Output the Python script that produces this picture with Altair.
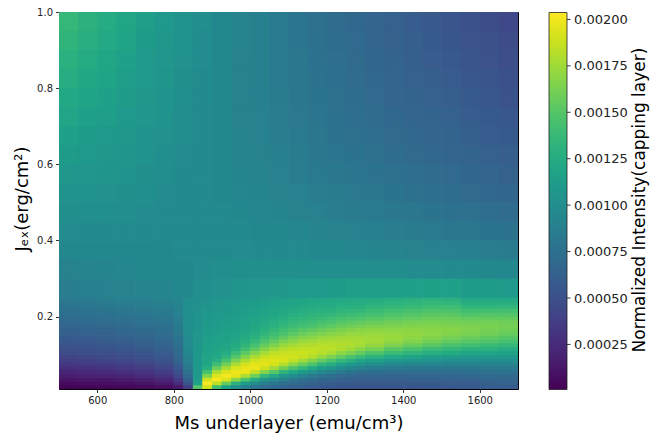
import altair as alt
import pandas as pd

# ---------------- data ----------------
# lower band (Jex 0.01 - 0.25): finer Ms steps around the ridge tip
ms_edges_low = [500, 550, 600, 650, 700, 750, 800, 825, 850,
                875, 900, 925, 950, 975, 1000, 1025, 1050, 1075, 1100, 1125, 1150,
                1175, 1200, 1225, 1250, 1275, 1300,
                1350, 1400, 1450, 1500, 1550, 1600, 1650, 1700]
j_edges_low = [0.01, 0.02, 0.03, 0.04, 0.05, 0.06, 0.07, 0.08, 0.09, 0.10, 0.11, 0.12, 0.13,
               0.14, 0.15, 0.16, 0.17, 0.18, 0.19, 0.20, 0.21, 0.22, 0.23, 0.24, 0.25]
# upper band (Jex 0.25 - 1.0)
ms_edges_high = [500, 550, 600, 650, 700, 750, 800, 850, 900, 950, 1000, 1050, 1100,
                 1150, 1200, 1250, 1300, 1350, 1400, 1450, 1500, 1550, 1600, 1650, 1700]
j_edges_high = [0.25, 0.30, 0.35, 0.40, 0.45, 0.50, 0.55, 0.60, 0.65, 0.70, 0.75, 0.80, 0.85, 0.90, 0.95, 1.00]

# Normalized intensity (x 1e-5), one list per Ms column, bottom row to top row
low_525 = [2, 6, 11, 17, 22, 28, 33, 38, 42, 46, 50, 53, 56, 58, 61, 64, 66, 69, 71, 74, 76, 78, 80, 83]
low_575 = [3, 7, 12, 18, 24, 29, 35, 39, 44, 48, 51, 54, 57, 60, 63, 65, 68, 70, 73, 75, 78, 80, 82, 84]
low_625 = [3, 8, 13, 20, 26, 31, 37, 41, 46, 49, 53, 56, 59, 62, 64, 67, 69, 72, 74, 77, 79, 81, 84, 86]
low_675 = [4, 9, 15, 22, 28, 34, 39, 44, 48, 52, 55, 58, 61, 64, 66, 69, 71, 74, 76, 78, 81, 83, 85, 88]
low_725 = [5, 11, 18, 25, 31, 37, 42, 47, 51, 55, 58, 61, 64, 66, 69, 71, 74, 76, 78, 80, 83, 85, 87, 89]
low_775 = [7, 15, 23, 31, 37, 43, 48, 52, 56, 59, 62, 65, 68, 70, 72, 74, 76, 78, 80, 82, 84, 86, 88, 90]
low_812 = [14, 26, 36, 44, 51, 56, 61, 65, 68, 71, 73, 75, 77, 79, 81, 83, 84, 86, 87, 89, 90, 91, 92, 93]
low_837 = [38, 54, 64, 71, 77, 82, 86, 89, 92, 94, 96, 97, 98, 99, 100, 100, 101, 101, 101, 101, 101, 101, 101, 100]
low_862 = [150, 118, 112, 110, 110, 110, 110, 110, 109, 109, 108, 108, 107, 107, 106, 106, 105, 105, 104, 104, 103, 103, 102, 102]
low_887 = [189, 203, 189, 165, 144, 129, 122, 120, 119, 118, 117, 116, 115, 114, 113, 112, 111, 110, 109, 108, 107, 106, 105, 104]
low_912 = [142, 184, 202, 194, 178, 158, 141, 129, 123, 121, 119, 118, 117, 116, 115, 114, 113, 112, 111, 110, 109, 108, 107, 106]
low_937 = [118, 157, 192, 201, 193, 178, 161, 145, 133, 126, 122, 120, 118, 117, 116, 115, 114, 113, 112, 111, 110, 109, 108, 107]
low_962 = [100, 131, 169, 196, 199, 192, 179, 164, 150, 139, 130, 125, 122, 120, 118, 117, 116, 115, 114, 113, 112, 111, 110, 109]
low_987 = [88, 113, 146, 179, 198, 197, 191, 179, 166, 153, 142, 134, 129, 125, 122, 120, 118, 117, 116, 115, 114, 113, 112, 110]
low_1012 = [80, 99, 127, 159, 186, 198, 196, 189, 178, 166, 154, 144, 137, 131, 127, 124, 122, 120, 119, 117, 116, 114, 113, 111]
low_1037 = [72, 86, 108, 136, 167, 189, 196, 193, 186, 177, 166, 156, 147, 140, 134, 130, 127, 124, 122, 120, 118, 116, 114, 112]
low_1062 = [69, 80, 99, 123, 151, 175, 191, 194, 190, 184, 175, 165, 156, 147, 141, 136, 131, 128, 125, 122, 120, 118, 116, 114]
low_1087 = [65, 74, 89, 109, 134, 160, 181, 192, 191, 187, 181, 173, 164, 155, 147, 141, 136, 132, 128, 125, 122, 120, 118, 116]
low_1112 = [63, 70, 83, 100, 123, 147, 169, 185, 190, 188, 184, 177, 169, 161, 153, 146, 140, 136, 132, 128, 125, 122, 120, 118]
low_1137 = [61, 67, 77, 93, 112, 135, 158, 176, 187, 188, 185, 180, 174, 166, 158, 151, 144, 139, 134, 130, 127, 124, 121, 119]
low_1162 = [59, 64, 72, 85, 103, 124, 147, 166, 181, 186, 185, 181, 176, 169, 162, 154, 147, 141, 136, 133, 129, 126, 123, 120]
low_1187 = [57, 61, 68, 79, 94, 112, 133, 155, 172, 182, 184, 182, 178, 172, 165, 158, 151, 145, 139, 134, 130, 127, 124, 121]
low_1212 = [56, 60, 66, 75, 88, 106, 126, 146, 164, 178, 183, 182, 179, 174, 168, 161, 154, 147, 141, 136, 131, 127, 124, 122]
low_1237 = [55, 58, 63, 71, 83, 98, 117, 137, 155, 170, 180, 181, 179, 175, 170, 164, 157, 151, 144, 139, 133, 130, 126, 123]
low_1262 = [54, 57, 62, 69, 79, 93, 110, 129, 147, 164, 175, 180, 179, 176, 172, 166, 160, 153, 147, 140, 135, 130, 127, 124]
low_1287 = [54, 57, 61, 67, 76, 89, 104, 121, 140, 156, 169, 177, 178, 176, 172, 168, 161, 155, 148, 142, 136, 131, 127, 124]
low_1325 = [54, 57, 61, 66, 75, 86, 99, 115, 132, 148, 162, 171, 176, 175, 173, 169, 164, 157, 151, 144, 139, 134, 129, 125]
low_1375 = [55, 57, 61, 67, 74, 84, 95, 110, 124, 139, 152, 164, 171, 173, 172, 169, 165, 160, 154, 148, 142, 137, 132, 128]
low_1425 = [55, 58, 62, 67, 74, 82, 93, 106, 119, 133, 146, 157, 166, 170, 171, 169, 166, 162, 156, 150, 145, 139, 134, 130]
low_1475 = [56, 58, 62, 67, 73, 82, 92, 103, 115, 128, 140, 152, 160, 166, 169, 168, 166, 163, 158, 153, 147, 141, 136, 132]
low_1525 = [56, 59, 63, 68, 74, 81, 91, 101, 112, 125, 136, 146, 155, 162, 166, 167, 165, 162, 158, 153, 147, 141, 135, 131]
low_1575 = [57, 60, 64, 69, 74, 82, 90, 100, 110, 121, 131, 142, 151, 158, 163, 165, 164, 161, 156, 149, 142, 135, 129, 124]
low_1625 = [59, 62, 66, 70, 77, 83, 92, 100, 110, 120, 130, 139, 148, 154, 160, 162, 163, 161, 156, 150, 143, 135, 129, 124]
low_1675 = [60, 63, 67, 71, 77, 84, 92, 100, 109, 118, 127, 136, 144, 151, 156, 160, 161, 160, 156, 150, 143, 136, 129, 124]

high_525 = [86, 91, 95, 99, 102, 105, 109, 113, 116, 120, 123, 127, 130, 133, 136]
high_575 = [88, 92, 95, 98, 101, 104, 107, 110, 113, 116, 119, 122, 125, 128, 131]
high_625 = [89, 93, 96, 98, 101, 103, 106, 108, 111, 114, 116, 119, 121, 124, 126]
high_675 = [91, 94, 96, 98, 100, 102, 104, 106, 108, 110, 112, 114, 116, 119, 121]
high_725 = [92, 95, 96, 98, 99, 101, 102, 104, 105, 107, 108, 110, 111, 113, 115]
high_775 = [93, 95, 96, 97, 98, 99, 100, 101, 103, 104, 105, 106, 107, 109, 110]
high_825 = [96, 96, 97, 97, 97, 98, 98, 99, 100, 100, 101, 102, 103, 104, 105]
high_875 = [101, 99, 98, 97, 97, 97, 97, 97, 97, 97, 98, 98, 99, 99, 100]
high_925 = [103, 100, 98, 97, 97, 96, 96, 96, 96, 95, 95, 95, 95, 96, 96]
high_975 = [106, 102, 99, 97, 95, 94, 93, 92, 92, 91, 91, 91, 91, 92, 92]
high_1025 = [107, 102, 98, 96, 94, 93, 92, 91, 90, 89, 88, 88, 88, 88, 88]
high_1075 = [109, 102, 98, 95, 93, 91, 89, 88, 87, 86, 85, 84, 84, 84, 84]
high_1125 = [110, 102, 97, 94, 91, 89, 87, 85, 84, 83, 82, 81, 81, 80, 80]
high_1175 = [111, 101, 96, 92, 89, 86, 84, 82, 81, 80, 79, 78, 77, 77, 76]
high_1225 = [113, 101, 95, 91, 87, 85, 82, 80, 78, 77, 76, 75, 74, 73, 72]
high_1275 = [114, 101, 94, 89, 85, 83, 80, 78, 76, 74, 73, 72, 71, 70, 69]
high_1325 = [114, 100, 93, 88, 84, 81, 78, 76, 74, 72, 70, 69, 68, 67, 66]
high_1375 = [115, 100, 92, 86, 82, 79, 76, 73, 71, 69, 67, 66, 65, 64, 63]
high_1425 = [116, 99, 91, 85, 81, 77, 74, 71, 69, 67, 65, 63, 62, 61, 60]
high_1475 = [117, 99, 90, 84, 79, 75, 72, 69, 67, 65, 63, 61, 59, 58, 57]
high_1525 = [116, 98, 89, 82, 77, 73, 70, 67, 65, 63, 61, 59, 57, 55, 54]
high_1575 = [112, 97, 88, 81, 76, 71, 68, 65, 62, 60, 58, 56, 54, 52, 51]
high_1625 = [112, 96, 87, 79, 74, 69, 66, 63, 60, 58, 56, 54, 52, 50, 48]
high_1675 = [111, 95, 85, 78, 72, 68, 64, 61, 58, 56, 53, 51, 49, 47, 45]

low_columns = [low_525, low_575, low_625, low_675, low_725, low_775, low_812, low_837,
               low_862, low_887, low_912, low_937, low_962, low_987, low_1012, low_1037,
               low_1062, low_1087, low_1112, low_1137, low_1162, low_1187, low_1212,
               low_1237, low_1262, low_1287,
               low_1325, low_1375, low_1425, low_1475, low_1525, low_1575, low_1625, low_1675]
high_columns = [high_525, high_575, high_625, high_675, high_725, high_775, high_825, high_875,
                high_925, high_975, high_1025, high_1075, high_1125, high_1175, high_1225,
                high_1275, high_1325, high_1375, high_1425, high_1475, high_1525, high_1575,
                high_1625, high_1675]

x_ticks = [600, 800, 1000, 1200, 1400, 1600]
y_ticks = [0.2, 0.4, 0.6, 0.8, 1.0]
cbar_ticks = [0.00025, 0.0005, 0.00075, 0.001, 0.00125, 0.0015, 0.00175, 0.002]
color_domain = [0.00001, 0.00204]

records = []


def add_cells(ms_e, j_e, cols):
    assert len(cols) == len(ms_e) - 1
    for i, col in enumerate(cols):
        assert len(col) == len(j_e) - 1, (i, len(col))
        for k, v in enumerate(col):
            records.append({"ms": ms_e[i], "ms2": ms_e[i + 1],
                            "j": j_e[k], "j2": j_e[k + 1], "val": v * 1e-5})


add_cells(ms_edges_low, j_edges_low, low_columns)
add_cells(ms_edges_high, j_edges_high, high_columns)
df = pd.DataFrame(records)

# ---------------- chart ----------------
FONT = "DejaVu Sans"
cscale = alt.Scale(scheme="viridis", domain=color_domain, nice=False, zero=False)

x_enc = alt.X("ms:Q",
              scale=alt.Scale(domain=[500, 1700], nice=False, zero=False),
              axis=alt.Axis(values=x_ticks, format="d", title="Ms underlayer (emu/cm³)",
                            titleY=39, titleBaseline="alphabetic", titleAlign="center",
                            titleX=229.5))
y_enc = alt.Y("j:Q",
              scale=alt.Scale(domain=[0.01, 1.0], nice=False, zero=False),
              axis=alt.Axis(values=y_ticks, format=".1f", title="Jₑₓ(erg/cm²)",
                            titleAngle=270, titleX=-32, titleY=186.5,
                            titleBaseline="alphabetic", titleAlign="center"))
color_enc = alt.Color("val:Q", scale=cscale,
                      legend=alt.Legend(orient="none", legendX=490, legendY=0.5,
                                        direction="vertical", title=None,
                                        gradientLength=377, gradientThickness=18,
                                        values=cbar_ticks, format=".5f",
                                        labelFontSize=13, labelOffset=7,
                                        gradientStrokeColor="#222", gradientStrokeWidth=0.8))

cells = alt.Chart(df).mark_rect(clip=True).encode(
    x=x_enc, x2="ms2:Q", y=y_enc, y2="j2:Q", color=color_enc
)
# the same cells drawn three times (one shared scale/axis) so anti-aliased seams do not show
heat = alt.layer(cells, cells, cells)

# small tick marks on the right edge of the colour bar
cbar_tick_marks = alt.Chart(pd.DataFrame({"v": cbar_ticks})).mark_rule(
    color="black", strokeWidth=0.8
).encode(
    y=alt.Y("v:Q", scale=alt.Scale(domain=color_domain, nice=False, zero=False), axis=None),
    x=alt.value(508), x2=alt.value(511.5),
)

cbar_title = alt.Chart(pd.DataFrame({"t": ["Normalized Intensity(capping layer)"]})).mark_text(
    angle=270, align="center", baseline="alphabetic", fontSize=17, font=FONT, color="black"
).encode(x=alt.value(586), y=alt.value(188), text="t:N")

chart = alt.layer(heat, cbar_tick_marks, cbar_title).resolve_scale(
    y="independent"
).properties(
    width=459, height=377,
    autosize=alt.AutoSizeParams(type="none"),
    padding={"left": 59, "top": 12, "right": 144, "bottom": 46},
    background="white",
).configure_view(
    stroke="black", strokeWidth=1
).configure_axis(
    grid=False, domain=False, tickSize=3.5, tickColor="black", tickWidth=0.8,
    labelFont=FONT, labelFontSize=10, labelColor="#222", labelPadding=3,
    titleFont=FONT, titleFontSize=18, titleFontWeight="normal", titleColor="black",
).configure_legend(
    labelFont=FONT, labelColor="#222"
)

chart.save("out.html", embed_options={"renderer": "svg", "actions": False})
